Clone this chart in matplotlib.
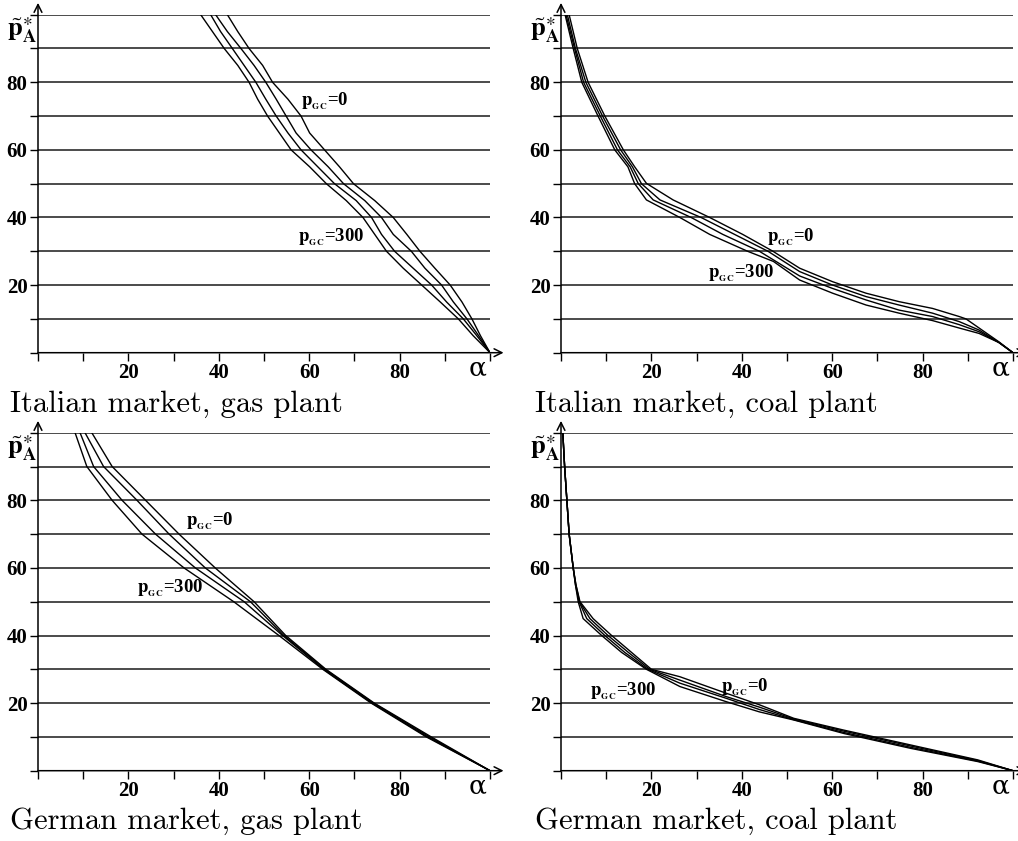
import matplotlib.pyplot as plt

plt.rcParams['mathtext.fontset'] = 'stix'

# Italian market, gas plant (alpha read at fixed price levels)
it_gas_price = [100, 95, 90, 85, 80, 75, 70, 65, 60, 55, 50, 45, 40, 35, 30, 25, 20, 15, 10, 5, 0]
it_gas_pgc0 = [41.9, 44.2, 46.7, 49.7, 51.9, 55.3, 58.2, 60.1, 63.4, 66.7, 69.8, 74.5, 78.6, 81.6, 84.5, 87.8, 91.2, 93.8, 96.0, 97.9, 100]
it_gas_pgc100 = [39.3, 41.9, 44.9, 47.8, 50.4, 52.7, 54.9, 57.1, 60.4, 64.2, 67.6, 72.3, 76.0, 78.6, 82.6, 85.6, 89.3, 91.9, 94.9, 97.5, 100]
it_gas_pgc200 = [38.2, 40.4, 43.0, 45.6, 48.2, 50.4, 52.7, 55.3, 58.2, 61.9, 65.6, 70.4, 73.8, 76.0, 78.9, 83.0, 87.1, 90.4, 94.1, 97.1, 100]
it_gas_pgc300 = [36.0, 38.6, 41.2, 44.2, 46.7, 48.6, 50.8, 53.4, 56.0, 60.1, 63.8, 68.2, 71.9, 74.5, 77.1, 80.8, 84.9, 89.0, 93.0, 96.3, 100]

# Italian market, coal plant (one alpha/price list per curve)
it_coal_pgc0_a = [1.8, 3.6, 6.0, 9.7, 13.8, 16.3, 18.9, 24.8, 32.9, 40.2, 46.9, 52.8, 60.1, 67.5, 74.8, 82.2, 88.1, 89.6, 92.5, 96.9, 100]
it_coal_pgc0_p = [100, 90, 80, 70, 60, 55, 50.1, 45.2, 40, 35, 30, 25.0, 21.0, 17.6, 15.1, 13.1, 10.7, 10.0, 7.3, 3.2, 0]
it_coal_pgc100_a = [1.4, 3.2, 5.5, 9.2, 13.2, 15.8, 17.8, 21.9, 31.0, 38.4, 45.8, 52.8, 60.1, 67.5, 74.8, 82.2, 88.1, 92.5, 96.9, 100]
it_coal_pgc100_p = [100, 90, 80, 70, 60, 55, 50, 45.2, 40, 35, 30, 24.0, 20.0, 16.6, 14.1, 11.7, 9.2, 6.7, 3.0, 0]
it_coal_pgc200_a = [1.1, 3.0, 5.0, 8.7, 12.5, 15.3, 17.1, 20.4, 28.8, 35.8, 43.9, 52.8, 60.1, 67.5, 74.8, 82.2, 88.1, 92.5, 96.9, 100]
it_coal_pgc200_p = [100, 90, 80, 70, 60, 55, 50, 45.2, 40, 35, 30, 22.7, 19.0, 15.6, 12.6, 10.7, 8.3, 6.2, 3.0, 0]
it_coal_pgc300_a = [0.9, 2.7, 4.6, 8.2, 11.9, 14.8, 16.3, 18.9, 26.3, 32.9, 41.3, 47.0, 52.8, 60.1, 67.5, 74.8, 82.2, 88.1, 92.5, 96.9, 100]
it_coal_pgc300_p = [100, 90, 80, 70, 60, 55, 50, 45.2, 40, 35, 30, 27.0, 21.5, 17.6, 14.1, 11.7, 9.5, 7.3, 5.7, 3.0, 0]

# German market, gas plant
de_gas_price = [100, 90, 80, 70, 60, 50, 40, 30, 20, 10, 0]
de_gas_pgc0 = [11.9, 16.4, 23.8, 31.2, 39.2, 47.8, 54.8, 63.7, 74.4, 87.0, 100]
de_gas_pgc100 = [10.4, 14.5, 21.9, 29.0, 37.0, 47.0, 54.4, 63.5, 74.2, 86.6, 100]
de_gas_pgc200 = [9.3, 12.3, 18.6, 26.0, 34.8, 45.6, 54.1, 63.2, 73.9, 86.2, 100]
de_gas_pgc300 = [8.2, 10.8, 16.4, 23.0, 32.3, 43.3, 53.3, 63.0, 73.7, 85.9, 100]

# German market, coal plant
de_coal_pgc0_a = [0.4, 0.8, 1.3, 1.8, 2.7, 3.3, 4.2, 7.1, 11.2, 15.6, 20.0, 26.3, 36.6, 43.9, 51.5, 62.6, 77.4, 92.2, 100]
de_coal_pgc0_p = [100, 90, 80, 70, 60, 55, 50, 45, 40, 35, 30, 27.8, 22.9, 19.5, 15.5, 12.0, 7.6, 3.2, 0]
de_coal_pgc100_a = [0.4, 0.8, 1.3, 1.8, 2.7, 3.3, 4.1, 6.4, 10.4, 14.9, 19.6, 26.3, 36.6, 43.9, 51.5, 62.6, 77.4, 92.2, 100]
de_coal_pgc100_p = [100, 90, 80, 70, 60, 55, 50, 45, 40, 35, 30, 26.8, 21.9, 18.8, 15.3, 11.7, 7.3, 3.0, 0]
de_coal_pgc200_a = [0.4, 0.8, 1.3, 1.8, 2.7, 3.2, 4.0, 5.7, 9.7, 14.1, 19.2, 26.3, 36.6, 43.9, 51.5, 62.6, 77.4, 92.2, 100]
de_coal_pgc200_p = [100, 90, 80, 70, 60, 55, 50, 45, 40, 35, 30, 25.9, 21.4, 18.1, 15.1, 11.3, 6.9, 2.85, 0]
de_coal_pgc300_a = [0.4, 0.8, 1.3, 1.8, 2.7, 3.2, 3.8, 4.9, 9.0, 13.4, 18.9, 26.3, 36.6, 43.9, 51.5, 62.6, 77.4, 92.2, 100]
de_coal_pgc300_p = [100, 90, 80, 70, 60, 55, 50, 45, 40, 35, 30, 24.9, 20.4, 17.4, 15.0, 11.0, 6.6, 2.7, 0]

ticks = list(range(0, 101, 10))
tick_labels = ['', '', '20', '', '40', '', '60', '', '80', '', '']
lbl_0 = r'$\mathbf{p}_{_{\mathbf{GC}}}$=0'
lbl_300 = r'$\mathbf{p}_{_{\mathbf{GC}}}$=300'

W, H = 1018, 841
fig = plt.figure(figsize=(W / 100, H / 100), dpi=100)


def panel(left_px, bottom_px, curves, title, title_px, lab0, lab300):
    ax = fig.add_axes([left_px / W, 1 - bottom_px / H, 452 / W, 338 / H])
    ax.set_xlim(0, 100)
    ax.set_ylim(0, 100)
    for s in ax.spines.values():
        s.set_visible(False)
    ax.hlines(ticks[1:], 0, 100, color='#1a1a1a', lw=1.1)
    for a, p in curves:
        ax.plot(a, p, color='black', lw=1.0)
    # axes with arrow heads
    ax.annotate('', xy=(103, 0), xytext=(0, 0), annotation_clip=False,
                arrowprops=dict(arrowstyle='->', lw=1.1, color='black',
                                mutation_scale=14, shrinkA=0, shrinkB=0))
    ax.annotate('', xy=(0, 103.5), xytext=(0, 0), annotation_clip=False,
                arrowprops=dict(arrowstyle='->', lw=1.1, color='black',
                                mutation_scale=14, shrinkA=0, shrinkB=0))
    ax.set_xticks(ticks)
    ax.set_xticklabels(tick_labels)
    ax.set_yticks(ticks)
    ax.set_yticklabels(tick_labels)
    ax.tick_params(direction='out', length=5.5, width=1, color='black')
    ax.tick_params(axis='x', pad=2)
    ax.tick_params(axis='y', pad=2)
    for t in ax.get_xticklabels() + ax.get_yticklabels():
        t.set_fontfamily('Liberation Serif')
        t.set_fontweight('bold')
        t.set_fontsize(15)
    ax.text(97.3, -4.6, 'α', fontsize=19, ha='center', va='center',
            fontfamily='DejaVu Serif')
    ax.text(-0.3, 95.5, r'$\tilde{\mathbf{p}}^{\ast}_{\mathbf{A}}$', fontsize=19,
            ha='right', va='center')
    ax.text(lab0[0], lab0[1], lbl_0, fontfamily='Liberation Serif',
            fontweight='bold', fontsize=13.5, va='center')
    ax.text(lab300[0], lab300[1], lbl_300, fontfamily='Liberation Serif',
            fontweight='bold', fontsize=13.5, va='center')
    fig.text(title_px[0] / W, 1 - title_px[1] / H, title, fontfamily='cmr10',
             fontsize=22, va='baseline', ha='left')
    return ax


panel(38, 352.7,
      [(it_gas_pgc0, it_gas_price), (it_gas_pgc100, it_gas_price),
       (it_gas_pgc200, it_gas_price), (it_gas_pgc300, it_gas_price)],
      'Italian market, gas plant', (10, 411.7), (58.2, 74.3), (57.5, 34.2))
panel(561, 352.7,
      [(it_coal_pgc0_a, it_coal_pgc0_p), (it_coal_pgc100_a, it_coal_pgc100_p),
       (it_coal_pgc200_a, it_coal_pgc200_p), (it_coal_pgc300_a, it_coal_pgc300_p)],
      'Italian market, coal plant', (535, 411.7), (45.5, 34.2), (32.5, 23.6))
panel(38, 770.7,
      [(de_gas_pgc0, de_gas_price), (de_gas_pgc100, de_gas_price),
       (de_gas_pgc200, de_gas_price), (de_gas_pgc300, de_gas_price)],
      'German market, gas plant', (10, 829), (32.7, 73.9), (22.0, 54.0))
panel(561, 770.7,
      [(de_coal_pgc0_a, de_coal_pgc0_p), (de_coal_pgc100_a, de_coal_pgc100_p),
       (de_coal_pgc200_a, de_coal_pgc200_p), (de_coal_pgc300_a, de_coal_pgc300_p)],
      'German market, coal plant', (535, 829), (35.5, 24.8), (6.4, 23.6))

fig.savefig('out.png', dpi=100)
